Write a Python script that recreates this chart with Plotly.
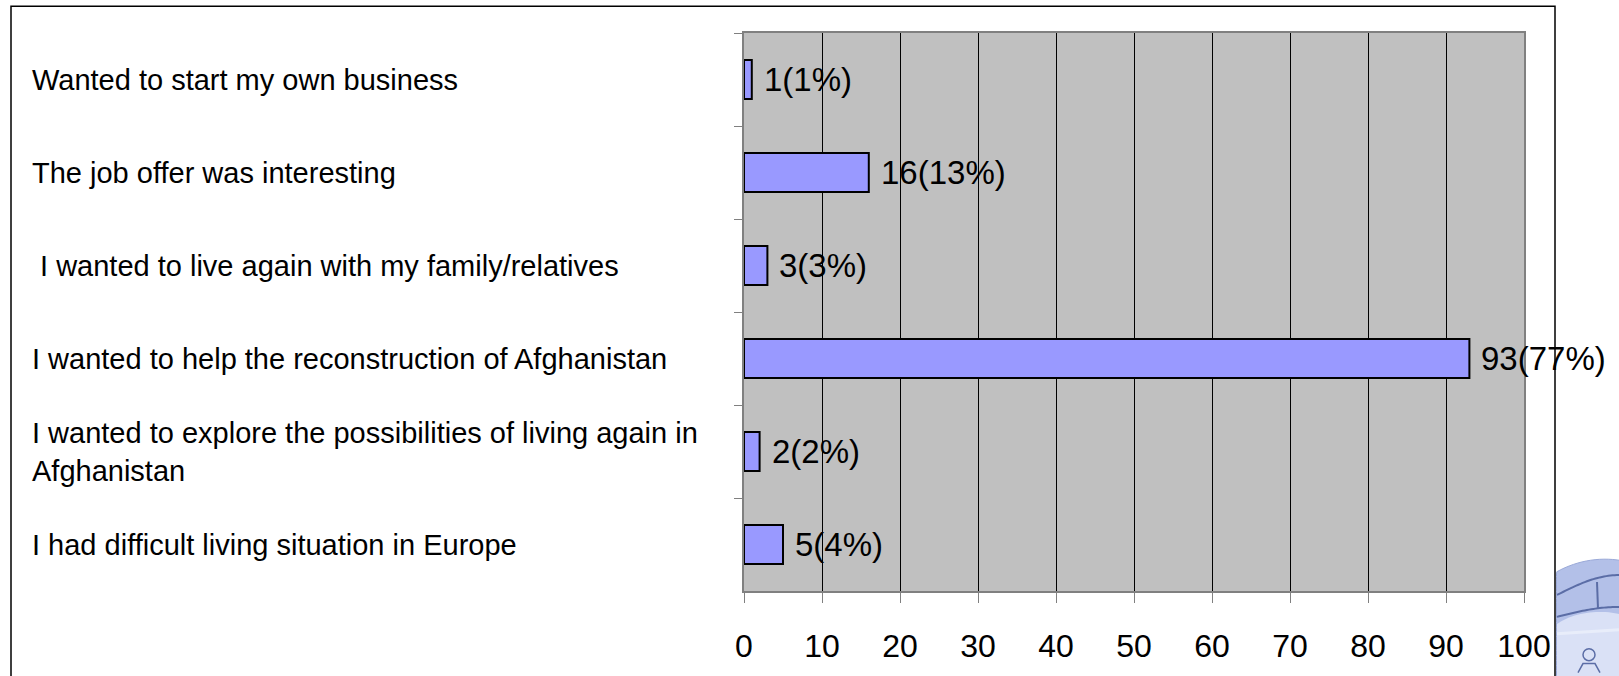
import numpy as np
import plotly.graph_objects as go

# Survey answers: reasons for returning, counts and shares
reasons = [
    "Wanted to start my own business",
    "The job offer was interesting",
    " I wanted to live again with my family/relatives",
    "I wanted to help the reconstruction of Afghanistan",
    "I wanted to explore the possibilities of living again in<br>Afghanistan",
    "I had difficult living situation in Europe",
]
counts = [1, 16, 3, 93, 2, 5]
shares = [1, 13, 3, 77, 2, 4]
x_ticks = [0, 10, 20, 30, 40, 50, 60, 70, 80, 90, 100]

W, H = 1619, 676
L, R, T, B = 744, 1524, 33, 594  # plot area in pixels


def px(x):
    return (x - L) / (R - L)


def py(y):
    return (B - y) / (B - T)


FONT = "Liberation Sans, Arial, Helvetica, sans-serif"

fig = go.Figure()
fig.add_trace(go.Bar(
    y=reasons,
    x=counts,
    orientation="h",
    marker=dict(color="#9999FF", line=dict(color="#000000", width=2)),
    hoverinfo="x+y",
))

annotations = []
# value labels to the right of each bar
for r, c, s in zip(reasons, counts, shares):
    annotations.append(dict(
        x=c, y=r, xref="x", yref="y", text=f"{c}({s}%)",
        showarrow=False, xanchor="left", yanchor="middle", xshift=10,
        font=dict(family=FONT, size=33, color="#000000"),
    ))
# category captions, left aligned in the margin
for r in reasons:
    annotations.append(dict(
        x=px(30), y=r, xref="paper", yref="y", text=r,
        showarrow=False, xanchor="left", yanchor="middle", align="left",
        font=dict(family=FONT, size=29, color="#000000"),
    ))

shapes = []
# outer frame
shapes.append(dict(
    type="rect", xref="paper", yref="paper",
    x0=px(11), x1=px(1555), y0=py(6), y1=py(700),
    line=dict(color="#000000", width=1.5), fillcolor="rgba(0,0,0,0)", layer="above",
))

# emblem in the lower right corner
def path_from(points, close=True):
    s = "M " + " L ".join(f"{px(a):.5f},{py(b):.5f}" for a, b in points)
    return s + (" Z" if close else "")

t = np.linspace(0, 2 * np.pi, 160)
ex = 1605 + 112 * np.cos(t)
ey = 692 + 130 * np.sin(t)
ex = np.clip(ex, 1556.5, None)
shapes.append(dict(type="path", xref="paper", yref="paper",
                   path=path_from(list(zip(ex, ey))),
                   fillcolor="#B3C0E8", line=dict(color="#9AA9D8", width=1), layer="above"))
# lighter inner glow
t2 = np.linspace(0, 2 * np.pi, 120)
gx = np.clip(1600 + 60 * np.cos(t2), 1557, None)
gy = 655 + 40 * np.sin(t2)
shapes.append(dict(type="path", xref="paper", yref="paper",
                   path=path_from(list(zip(gx, gy))),
                   fillcolor="rgba(235,240,252,0.7)", line=dict(width=0), layer="above"))
# wheel rim and spokes
s1 = np.linspace(1557, 1619, 30)
rim1 = 598 - 20 * np.sin((s1 - 1557) / 62 * np.pi / 2)
rim2 = 620 - 10 * np.sin((s1 - 1557) / 62 * np.pi / 2)
for yy in (rim1, rim2):
    shapes.append(dict(type="path", xref="paper", yref="paper",
                       path=path_from(list(zip(s1, yy)), close=False),
                       line=dict(color="#5B6DA6", width=2), layer="above"))
for sx in (1597,):
    shapes.append(dict(type="line", xref="paper", yref="paper",
                       x0=px(sx), x1=px(sx + 1), y0=py(585), y1=py(612),
                       line=dict(color="#5B6DA6", width=2), layer="above"))
shapes.append(dict(type="line", xref="paper", yref="paper",
                   x0=px(1557), x1=px(1619), y0=py(637), y1=py(633),
                   line=dict(color="#E8EDFA", width=3), layer="above"))
# small figure at the bottom of the emblem
shapes.append(dict(type="circle", xref="paper", yref="paper",
                   x0=px(1583), x1=px(1595), y0=py(652), y1=py(664),
                   line=dict(color="#5B6DA6", width=1.5), fillcolor="rgba(0,0,0,0)", layer="above"))
shapes.append(dict(type="path", xref="paper", yref="paper",
                   path=path_from([(1578, 676), (1583, 667), (1595, 667), (1600, 676)], close=False),
                   line=dict(color="#5B6DA6", width=1.5), layer="above"))

fig.update_layout(
    width=W, height=H,
    margin=dict(l=L, r=W - R, t=T, b=H - B, pad=0),
    paper_bgcolor="#FFFFFF",
    plot_bgcolor="#C0C0C0",
    bargap=0.58,
    showlegend=False,
    font=dict(family=FONT, color="#000000"),
    annotations=annotations,
    shapes=shapes,
    xaxis=dict(
        range=[0, 100], tickvals=x_ticks, ticktext=[str(v) for v in x_ticks],
        showgrid=True, gridcolor="#000000", gridwidth=1, zeroline=False,
        showline=True, linecolor="#808080", linewidth=2, mirror=True,
        ticks="outside", ticklen=10, tickcolor="#808080", tickwidth=1,
        ticklabelstandoff=16,
        tickfont=dict(family=FONT, size=32, color="#000000"),
        fixedrange=True,
    ),
    yaxis=dict(
        categoryorder="array", categoryarray=reasons, autorange="reversed",
        showticklabels=False, showgrid=False, zeroline=False,
        showline=True, linecolor="#808080", linewidth=2, mirror=True,
        ticks="outside", ticklen=8, tickcolor="#808080", tickwidth=1,
        tickson="boundaries", fixedrange=True,
    ),
)

fig.write_html("out.html")
